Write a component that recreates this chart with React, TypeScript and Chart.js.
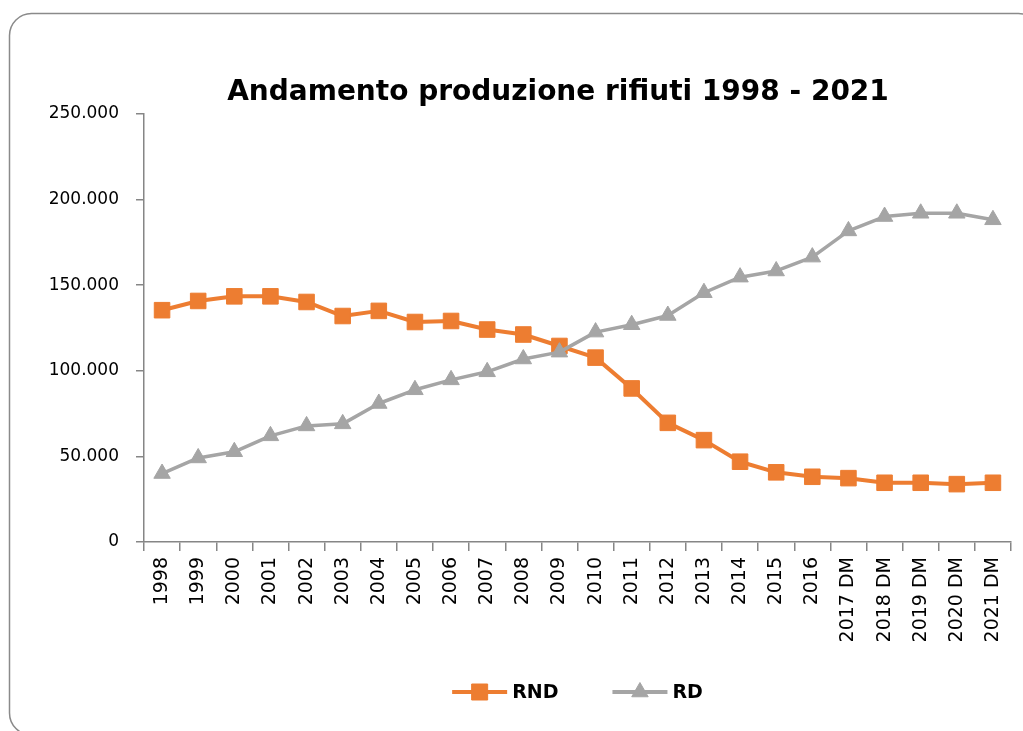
import React, { useEffect, useRef } from 'react';
import { Chart, registerables } from 'chart.js';

Chart.register(...registerables);

const TITLE = 'Andamento produzione rifiuti 1998 - 2021';

const CATEGORIES = [
  '1998', '1999', '2000', '2001', '2002', '2003', '2004', '2005', '2006', '2007',
  '2008', '2009', '2010', '2011', '2012', '2013', '2014', '2015', '2016',
  '2017 DM', '2018 DM', '2019 DM', '2020 DM', '2021 DM',
];

const RND = [
  135400, 140800, 143500, 143500, 140200, 132000, 135000, 128500, 129100, 124100,
  121200, 114500, 107700, 89700, 69600, 59500, 46900, 40700, 38100,
  37300, 34600, 34600, 33800, 34600,
];

const RD = [
  40000, 49100, 52700, 62000, 67800, 69000, 80900, 88900, 94700, 99400,
  106900, 110900, 122600, 126900, 132300, 145600, 154700, 158300, 166400,
  181700, 190100, 192000, 192000, 188200,
];

const SERIES_NAMES = ['RND', 'RD'];
const SERIES_COLORS = ['#ED7D31', '#A5A5A5'];
const Y_MIN = 0;
const Y_MAX = 250000;
const Y_STEP = 50000;

const AXIS_COLOR = '#868686';
const LABEL_FONT = '"DejaVu Sans", "Liberation Sans", sans-serif';

const fmt = (v: number) =>
  v === 0 ? '0' : String(Math.round(v)).replace(/\B(?=(\d{3})+(?!\d))/g, '.');

function drawMarker(ctx: CanvasRenderingContext2D, style: string, x: number, y: number, color: string) {
  ctx.fillStyle = color;
  ctx.strokeStyle = color;
  ctx.lineWidth = 1;
  ctx.beginPath();
  if (style === 'rect') {
    ctx.rect(x - 8, y - 8, 16, 16);
  } else {
    const r = 9.5;
    ctx.moveTo(x, y - r);
    ctx.lineTo(x + Math.sin((2 * Math.PI) / 3) * r, y + r / 2);
    ctx.lineTo(x - Math.sin((2 * Math.PI) / 3) * r, y + r / 2);
    ctx.closePath();
  }
  ctx.fill();
  ctx.stroke();
}

const decorPlugin = {
  id: 'decor',
  beforeDraw(chart: any) {
    const ctx: CanvasRenderingContext2D = chart.ctx;
    ctx.save();
    ctx.fillStyle = '#ffffff';
    ctx.fillRect(0, 0, chart.width, chart.height);
    ctx.strokeStyle = '#8a8a8a';
    ctx.lineWidth = 1.5;
    ctx.beginPath();
    (ctx as any).roundRect(9.5, 13.5, chart.width + 8, chart.height + 4 - 13.5, 22);
    ctx.stroke();
    ctx.restore();
  },
  afterDraw(chart: any) {
    const ctx: CanvasRenderingContext2D = chart.ctx;
    const area = chart.chartArea;
    ctx.save();
    // title
    ctx.fillStyle = '#000000';
    ctx.font = 'bold 28px ' + LABEL_FONT;
    ctx.textAlign = 'center';
    ctx.textBaseline = 'middle';
    ctx.fillText(TITLE, 558, 93);

    // legend
    const legendY = 692;
    const sampleLen = 55;
    const gapText = 5;
    const gapItems = 54;
    ctx.font = 'bold 19px ' + LABEL_FONT;
    const items = chart.data.datasets.map((ds: any) => ({
      label: ds.label,
      color: ds.borderColor,
      style: ds.pointStyle,
      w: ctx.measureText(ds.label).width,
    }));
    let total = 0;
    items.forEach((it: any, i: number) => {
      total += sampleLen + gapText + it.w + (i < items.length - 1 ? gapItems : 0);
    });
    let x = (area.left + area.right) / 2 - total / 2;
    items.forEach((it: any) => {
      ctx.strokeStyle = it.color;
      ctx.lineWidth = 4;
      ctx.beginPath();
      ctx.moveTo(x, legendY);
      ctx.lineTo(x + sampleLen, legendY);
      ctx.stroke();
      drawMarker(ctx, it.style, x + sampleLen / 2, legendY, it.color);
      ctx.fillStyle = '#000000';
      ctx.textAlign = 'left';
      ctx.textBaseline = 'middle';
      ctx.fillText(it.label, x + sampleLen + gapText, legendY + 1);
      x += sampleLen + gapText + it.w + gapItems;
    });
    ctx.restore();
  },
};

export default function App() {
  const canvasRef = useRef<HTMLCanvasElement | null>(null);

  useEffect(() => {
    if (!canvasRef.current) return;
    const chart = new Chart(canvasRef.current, {
      type: 'line',
      data: {
        labels: CATEGORIES,
        datasets: [
          {
            label: SERIES_NAMES[0],
            data: RND,
            borderColor: SERIES_COLORS[0],
            backgroundColor: SERIES_COLORS[0],
            borderWidth: 4,
            pointStyle: 'rect',
            pointRadius: 11,
            pointBorderWidth: 1,
            pointBackgroundColor: SERIES_COLORS[0],
            pointBorderColor: SERIES_COLORS[0],
            tension: 0,
            borderJoinStyle: 'round',
            borderCapStyle: 'round',
            order: 1,
          },
          {
            label: SERIES_NAMES[1],
            data: RD,
            borderColor: SERIES_COLORS[1],
            backgroundColor: SERIES_COLORS[1],
            borderWidth: 3.5,
            pointStyle: 'triangle',
            pointRadius: 9.5,
            pointBorderWidth: 1,
            pointBackgroundColor: SERIES_COLORS[1],
            pointBorderColor: SERIES_COLORS[1],
            tension: 0,
            borderJoinStyle: 'round',
            borderCapStyle: 'round',
            order: 0,
          },
        ],
      },
      options: {
        responsive: false,
        animation: false,
        devicePixelRatio: 1,
        layout: { padding: { top: 114, right: 10, left: 0, bottom: 0 } },
        plugins: {
          legend: { display: false },
          title: { display: false },
          tooltip: { enabled: false },
        },
        scales: {
          x: {
            offset: true,
            grid: {
              offset: true,
              drawOnChartArea: false,
              drawTicks: true,
              tickLength: 9,
              color: AXIS_COLOR,
              lineWidth: 1.5,
            },
            border: { color: AXIS_COLOR, width: 1.5 },
            ticks: {
              autoSkip: false,
              minRotation: 90,
              maxRotation: 90,
              padding: 6,
              color: '#000000',
              font: { family: LABEL_FONT, size: 19 },
            },
            afterFit: (s: any) => {
              s.height = 189;
            },
          },
          y: {
            min: Y_MIN,
            max: Y_MAX,
            grid: {
              drawOnChartArea: false,
              drawTicks: true,
              tickLength: 8,
              color: AXIS_COLOR,
              lineWidth: 1.5,
            },
            border: { color: AXIS_COLOR, width: 1.5 },
            ticks: {
              stepSize: Y_STEP,
              padding: 17,
              color: '#000000',
              font: { family: LABEL_FONT, size: 17 },
              callback: (v: any) => fmt(Number(v)),
            },
            afterFit: (s: any) => {
              s.width = 144;
            },
          },
        },
      },
      plugins: [decorPlugin],
    });
    return () => chart.destroy();
  }, []);

  return (
    <div style={{ position: 'absolute', left: 0, top: 0, width: 1023, height: 731, background: '#fff' }}>
      <canvas ref={canvasRef} width={1023} height={731} style={{ display: 'block' }} />
    </div>
  );
}
